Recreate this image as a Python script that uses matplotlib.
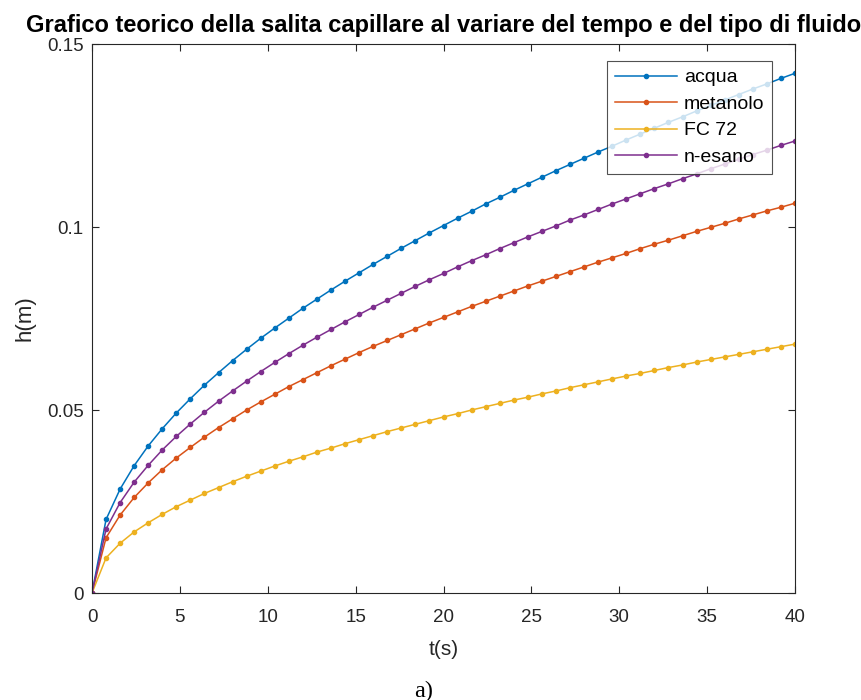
import matplotlib
matplotlib.use("Agg")
import matplotlib.pyplot as plt

t = [round(0.8 * i, 1) for i in range(51)]

acqua = [0, 0.0201, 0.0284, 0.0348, 0.0402, 0.0449, 0.0492, 0.0531, 0.0568, 0.0602,
         0.0635, 0.0666, 0.0696, 0.0724, 0.0751, 0.0778, 0.0803, 0.0828, 0.0852, 0.0875,
         0.0898, 0.0920, 0.0942, 0.0963, 0.0984, 0.1004, 0.1024, 0.1043, 0.1063, 0.1081,
         0.1100, 0.1118, 0.1136, 0.1154, 0.1171, 0.1188, 0.1205, 0.1221, 0.1238, 0.1254,
         0.1270, 0.1286, 0.1301, 0.1317, 0.1332, 0.1347, 0.1362, 0.1377, 0.1391, 0.1406,
         0.1420]
metanolo = [0, 0.0151, 0.0213, 0.0261, 0.0301, 0.0337, 0.0369, 0.0398, 0.0426, 0.0452,
            0.0476, 0.0500, 0.0522, 0.0543, 0.0564, 0.0583, 0.0602, 0.0621, 0.0639, 0.0657,
            0.0674, 0.0690, 0.0706, 0.0722, 0.0738, 0.0753, 0.0768, 0.0783, 0.0797, 0.0811,
            0.0825, 0.0839, 0.0852, 0.0865, 0.0878, 0.0891, 0.0904, 0.0916, 0.0928, 0.0941,
            0.0953, 0.0964, 0.0976, 0.0988, 0.0999, 0.1010, 0.1022, 0.1033, 0.1044, 0.1054,
            0.1065]
fc72 = [0, 0.0096, 0.0136, 0.0167, 0.0192, 0.0215, 0.0236, 0.0254, 0.0272, 0.0288,
        0.0304, 0.0319, 0.0333, 0.0347, 0.0360, 0.0372, 0.0385, 0.0396, 0.0408, 0.0419,
        0.0430, 0.0441, 0.0451, 0.0461, 0.0471, 0.0481, 0.0490, 0.0500, 0.0509, 0.0518,
        0.0527, 0.0535, 0.0544, 0.0552, 0.0561, 0.0569, 0.0577, 0.0585, 0.0593, 0.0600,
        0.0608, 0.0616, 0.0623, 0.0631, 0.0638, 0.0645, 0.0652, 0.0659, 0.0666, 0.0673,
        0.0680]
nesano = [0, 0.0175, 0.0247, 0.0303, 0.0349, 0.0391, 0.0428, 0.0462, 0.0494, 0.0524,
          0.0552, 0.0579, 0.0605, 0.0630, 0.0654, 0.0677, 0.0699, 0.0720, 0.0741, 0.0761,
          0.0781, 0.0800, 0.0819, 0.0838, 0.0856, 0.0873, 0.0891, 0.0908, 0.0924, 0.0941,
          0.0957, 0.0973, 0.0988, 0.1003, 0.1019, 0.1033, 0.1048, 0.1063, 0.1077, 0.1091,
          0.1105, 0.1118, 0.1132, 0.1145, 0.1159, 0.1172, 0.1185, 0.1198, 0.1210, 0.1223,
          0.1235]

labels = ["acqua", "metanolo", "FC 72", "n-esano"]
colors = ["#0072BD", "#D95319", "#EDB120", "#7E2F8E"]
series = [acqua, metanolo, fc72, nesano]

xticks = [0, 5, 10, 15, 20, 25, 30, 35, 40]
yticks = [0, 0.05, 0.1, 0.15]
yticklabels = ["0", "0.05", "0.1", "0.15"]

plt.rcParams['font.family'] = ['Liberation Sans', 'DejaVu Sans']

W, H = 861, 700
fig = plt.figure(figsize=(W / 100, H / 100), dpi=100)
fig.patch.set_facecolor("white")
ax = fig.add_axes([92 / W, 1 - 593 / H, (795 - 92) / W, (593 - 44) / H])

for y, lab, c in zip(series, labels, colors):
    ax.plot(t, y, color=c, marker='.', markersize=6, linewidth=1.1, label=lab)

ax.set_xlim(0, 40)
ax.set_ylim(0, 0.15)
ax.set_xticks(xticks)
ax.set_yticks(yticks)
ax.set_yticklabels(yticklabels)
ax.tick_params(direction='in', top=True, right=True, length=5, width=0.8,
               labelsize=13.5, colors='#262626', labelcolor='#262626')
ax.tick_params(axis='x', pad=11.5)
ax.tick_params(axis='y', pad=6)
for s in ax.spines.values():
    s.set_color('#262626')
    s.set_linewidth(0.8)

ax.set_xlabel("t(s)", fontsize=15, color='#262626', labelpad=10)
ax.set_ylabel("h(m)", fontsize=16, color='#262626', labelpad=8)
ax.set_title("Grafico teorico della salita capillare al variare del tempo e del tipo di fluido",
             fontsize=17, fontweight='bold', pad=8.6)

leg = ax.legend(loc='upper right', bbox_to_anchor=(772 / W, 1 - 61 / H),
                bbox_transform=fig.transFigure, fontsize=14, frameon=True,
                fancybox=False, edgecolor='#262626', handlelength=3.2,
                borderpad=0.4, labelspacing=0.46, handletextpad=0.33,
                borderaxespad=0)
leg.get_frame().set_linewidth(0.8)

fig.text(424 / W, 1 - 691 / H, "a)", ha='center', va='center', fontsize=17.5,
         family=['Liberation Serif', 'DejaVu Serif'])

fig.savefig("out.png", dpi=100, facecolor="white")
